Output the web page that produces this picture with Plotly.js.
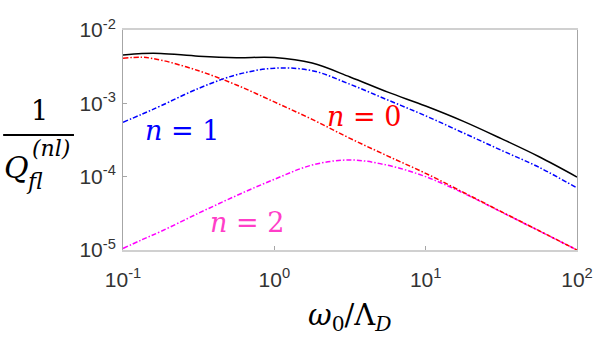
<!DOCTYPE html>
<html>
<head>
<meta charset="utf-8">
<script src="https://cdn.plot.ly/plotly-3.0.1.min.js"></script>
<style>html,body{margin:0;padding:0;background:#fff;}#chart{width:598px;height:337px;}</style>
</head>
<body>
<div id="chart"></div>
<script>
// omega_0 / Lambda_D
const omegaRatio = [0.1, 0.1334, 0.1778, 0.3162, 0.5623, 1, 1.778, 3.162, 5.623, 10, 17.78, 31.62, 56.23, 100];
const totalQ = [4.56e-3, 4.78e-3, 4.80e-3, 4.40e-3, 4.19e-3, 4.21e-3, 3.54e-3, 2.29e-3, 1.42e-3, 9.2e-4, 5.68e-4, 3.30e-4, 1.87e-4, 9.9e-5];
const n0Q = [4.11e-3, 4.25e-3, 3.89e-3, 2.78e-3, 1.78e-3, 1.045e-3, 6.04e-4, 3.33e-4, 1.91e-4, 1.11e-4, 6.1e-5, 3.33e-5, 1.83e-5, 1.0e-5];
const n1Q = [5.53e-4, 7.1e-4, 9.25e-4, 1.60e-3, 2.45e-3, 3.01e-3, 2.79e-3, 1.82e-3, 1.11e-3, 6.75e-4, 3.94e-4, 2.29e-4, 1.34e-4, 7.0e-5];
const n2Q = [1.05e-5, 1.38e-5, 1.79e-5, 3.18e-5, 5.52e-5, 9.2e-5, 1.44e-4, 1.69e-4, 1.43e-4, 1.0e-4, 5.96e-5, 3.30e-5, 1.82e-5, 1.0e-5];
const xTickVals = [0.1, 1, 10, 100];
const xTickText = ['10<sup>-1</sup>', '10<sup>0</sup>', '10<sup>1</sup>', '10<sup>2</sup>'];
const yTickVals = [1e-5, 1e-4, 1e-3, 1e-2];
const yTickText = ['10<sup>-5</sup>', '10<sup>-4</sup>', '10<sup>-3</sup>', '10<sup>-2</sup>'];

const dd = '5px,2px,1.5px,2px';
const mk = (y, color, dash) => ({
  x: omegaRatio, y: y, type: 'scatter', mode: 'lines',
  line: {color: color, width: 1.5, dash: dash, shape: 'spline', smoothing: 1},
  hoverinfo: 'skip', showlegend: false
});
const data = [
  mk(n2Q, '#ff00ff', dd),
  mk(n0Q, '#ff0000', dd),
  mk(n1Q, '#0000ff', dd),
  mk(totalQ, '#000000', 'solid')
];

const mathFont = 'DejaVu Serif, serif';
const ann = (text, x, y, size, color) => ({
  text: text, x: x, y: y, xref: 'paper', yref: 'paper', showarrow: false,
  xanchor: 'center', yanchor: 'middle', font: {family: mathFont, size: size, color: color}
});

const layout = {
  width: 598, height: 337,
  margin: {l: 123, r: 21, t: 30, b: 87},
  paper_bgcolor: '#fff', plot_bgcolor: '#fff',
  showlegend: false,
  xaxis: {
    type: 'log', range: [-1, 2], tickvals: xTickVals, ticktext: xTickText,
    ticks: 'inside', ticklen: 4, tickcolor: '#a6a6a6', showgrid: false, zeroline: false,
    showline: true, mirror: true, linecolor: '#d0d0d0', linewidth: 2,
    tickfont: {family: 'Liberation Sans, Arial, sans-serif', size: 21, color: '#333333'},
    ticklabelstandoff: 10
  },
  yaxis: {
    type: 'log', range: [-5, -2], tickvals: yTickVals, ticktext: yTickText,
    ticks: 'inside', ticklen: 4, tickcolor: '#a6a6a6', showgrid: false, zeroline: false,
    showline: true, mirror: true, linecolor: '#a6a6a6', linewidth: 1,
    tickfont: {family: 'Liberation Sans, Arial, sans-serif', size: 21, color: '#333333'},
    ticklabelstandoff: 2
  },
  shapes: [
    {type: 'line', xref: 'paper', yref: 'paper', x0: -0.264, x1: -0.108, y0: 0.523, y1: 0.523,
     line: {color: '#000', width: 2}}
  ],
  annotations: [
    ann('<i>n</i> = 1', 0.130, 0.541, 27, '#0000ff'),
    ann('<i>n</i> = 0', 0.531, 0.605, 27, '#ff0000'),
    ann('<i>n</i> = 2', 0.273, 0.123, 27, '#ff3ec8'),
    ann('1', -0.184, 0.632, 27, '#000'),
    ann('<i>Q</i>', -0.235, 0.375, 30, '#000'),
    ann('<i>(nl)</i>', -0.159, 0.462, 22, '#000'),
    ann('<i>fl</i>', -0.194, 0.312, 22, '#000'),
    ann('<i>ω</i><sub>0</sub>/Λ<sub><i>D</i></sub>', 0.5, -0.305, 29, '#000')
  ]
};
Plotly.newPlot('chart', data, layout, {staticPlot: true, displayModeBar: false});
</script>
</body>
</html>
